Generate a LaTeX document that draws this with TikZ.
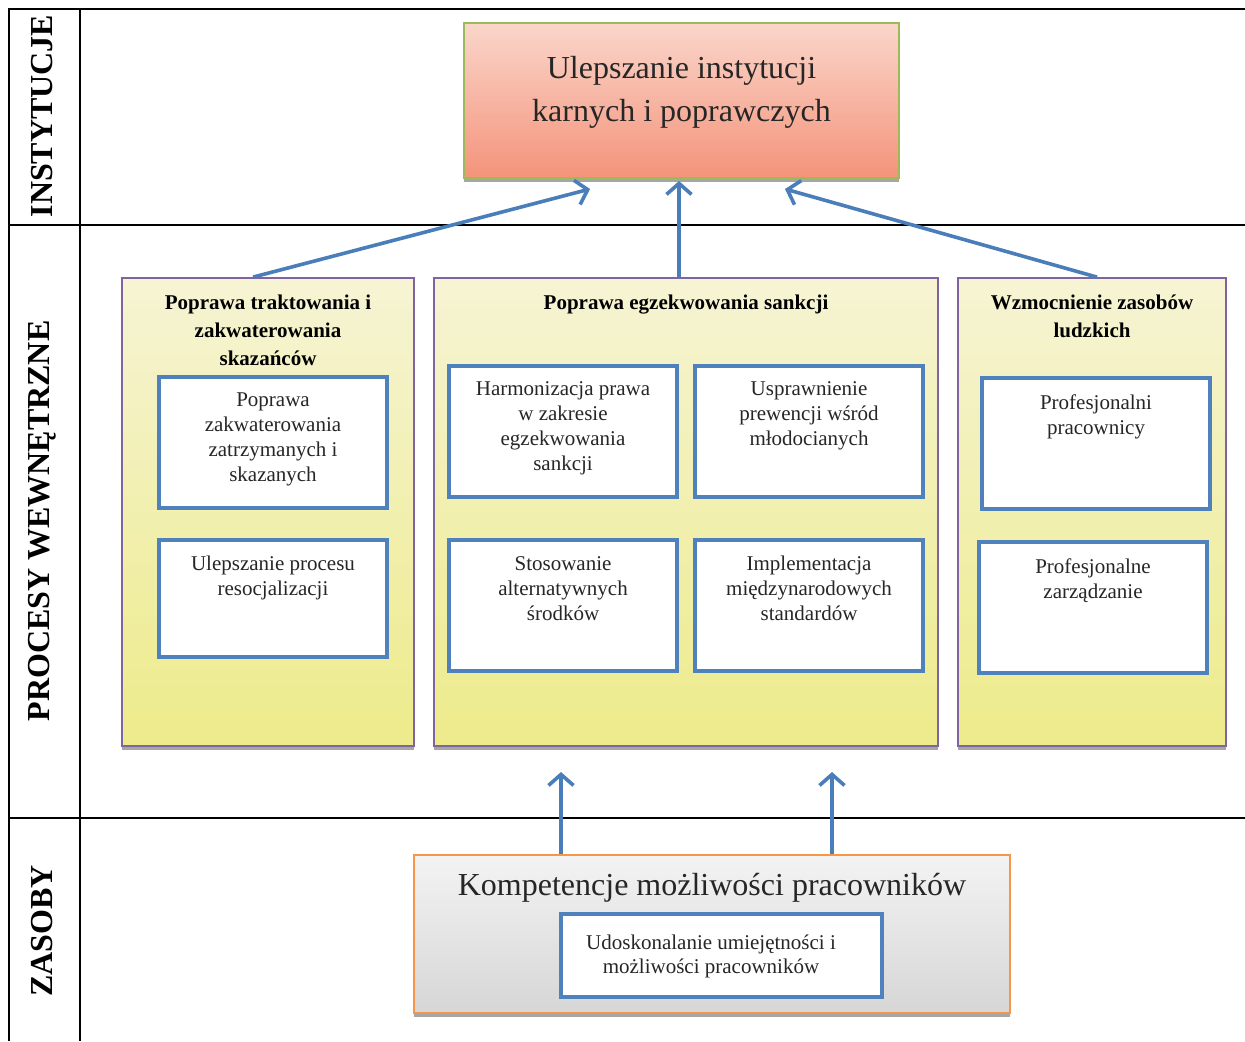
\documentclass[tikz,border=0pt]{standalone}
\usepackage{fontspec}
\setmainfont{Liberation Serif}
\usetikzlibrary{shapes, arrows.meta, positioning, shadows}
\definecolor{niebieski}{HTML}{4F81BD}
\definecolor{strzal}{HTML}{4A7EBB}
\definecolor{fiolet}{HTML}{8064A2}
\definecolor{zielony}{HTML}{9BBB59}
\definecolor{pomarancz}{HTML}{F79646}
\definecolor{lososJ}{HTML}{FAD6CB}
\definecolor{lososC}{HTML}{F4937A}
\definecolor{zoltyJ}{HTML}{F6F4D4}
\definecolor{zoltyC}{HTML}{EDEB8A}
\definecolor{szaryJ}{HTML}{F3F3F3}
\definecolor{szaryC}{HTML}{D6D6D6}
\tikzstyle{linia} = [line width=1.3pt]
\tikzstyle{wiersz} = [font=\fontsize{16}{18}\selectfont\bfseries, rotate=90, inner sep=0pt]
\tikzstyle{cien} = [drop shadow={shadow xshift=0pt, shadow yshift=-2pt, fill=black!35, opacity=1}]
\tikzstyle{cel} = [cien, draw=zielony, line width=1pt, top color=lososJ, bottom color=lososC, minimum width=217.5pt, minimum height=77.5pt]
\tikzstyle{obszar} = [cien, draw=fiolet, line width=0.9pt, top color=zoltyJ, bottom color=zoltyC, minimum height=234pt]
\tikzstyle{zasob} = [cien, draw=pomarancz, line width=1pt, top color=szaryJ, bottom color=szaryC, minimum width=298pt, minimum height=79pt]
\tikzstyle{zadanie} = [draw=niebieski, line width=2pt, fill=white, minimum width=114pt, minimum height=65.5pt]
\tikzstyle{naglowek} = [font=\fontsize{10.5}{14}\selectfont\bfseries, align=center, inner sep=0pt]
\tikzstyle{tekst} = [font=\fontsize{10.5}{12.5}\selectfont, text=black!85, align=center, inner sep=0pt]
\tikzstyle{duzy} = [font=\fontsize{16}{21.5}\selectfont, text=black!85, align=center, inner sep=0pt]
\tikzstyle{strzalka} = [draw=strzal, line width=1.8pt, -{Straight Barb[length=5.5pt, width=12.5pt]}]

\begin{document}
\begin{tikzpicture}[x=0.5pt, y=-0.5pt]
	\useasboundingbox (0,0) rectangle (1245,1041);
	% tabela
	\draw[linia] (1245,9) -- (9,9) -- (9,1041);
	\draw[linia] (80,9) -- (80,1041);
	\draw[linia] (9,225) -- (1245,225);
	\draw[linia] (9,818) -- (1245,818);
	\node[wiersz] (w1) at (42,116) {INSTYTUCJE};
	\node[wiersz] (w2) at (42,521) {PROCESY WEWNĘTRZNE};
	\node[wiersz] (w3) at (42,931) {ZASOBY};

	% instytucje
	\node[cel] (cel) at (681.5,100.5) {};
	\node[duzy, below=17pt of cel.north] (celT) {Ulepszanie instytucji\\karnych i poprawczych};

	% procesy
	\node[obszar, minimum width=146pt] (lbox) at (268,512) {};
	\node[obszar, minimum width=252pt] (mbox) at (686,512) {};
	\node[obszar, minimum width=134pt] (rbox) at (1092,512) {};
	\node[naglowek, below=8.5pt of lbox.north] (nL) {Poprawa traktowania i\\zakwaterowania\\skazańców};
	\node[naglowek, below=8.5pt of mbox.north] (nM) {Poprawa egzekwowania sankcji};
	\node[naglowek, below=8.5pt of rbox.north] (nR) {Wzmocnienie zasobów\\ludzkich};

	\node[zadanie] (z1) at (273,442) {};
	\node[zadanie, minimum height=58.5pt] (z2) at (273,598.5) {};
	\node[zadanie] (z3) at (563,431) {};
	\node[zadanie] (z4) at (809,431) {};
	\node[zadanie] (z5) at (563,605.5) {};
	\node[zadanie] (z6) at (809,605.5) {};
	\node[zadanie] (z7) at (1096,443.5) {};
	\node[zadanie] (z8) at (1093,607.5) {};
	\node[tekst, below=9pt of z1.north] (t1) {Poprawa\\zakwaterowania\\zatrzymanych i\\skazanych};
	\node[tekst, below=9pt of z2.north] (t2) {Ulepszanie procesu\\resocjalizacji};
	\node[tekst, below=9pt of z3.north] (t3) {Harmonizacja prawa\\w zakresie\\egzekwowania\\sankcji};
	\node[tekst, below=9pt of z4.north] (t4) {Usprawnienie\\prewencji wśród\\młodocianych};
	\node[tekst, below=9pt of z5.north] (t5) {Stosowanie\\alternatywnych\\środków};
	\node[tekst, below=9pt of z6.north] (t6) {Implementacja\\międzynarodowych\\standardów};
	\node[tekst, below=9pt of z7.north] (t7) {Profesjonalni\\pracownicy};
	\node[tekst, below=9pt of z8.north] (t8) {Profesjonalne\\zarządzanie};

	% zasoby
	\node[zasob] (kbox) at (712,934) {};
	\node[duzy, below=9.5pt of kbox.north] (kT) {Kompetencje możliwości pracowników};
	\node[zadanie, minimum width=160.5pt, minimum height=41.5pt] (kz) at (721.5,955.5) {};
	\node[tekst, font=\fontsize{10.5}{12}\selectfont] (kzT) at (711,956.5) {Udoskonalanie umiejętności i\\możliwości pracowników};

	% strzalki
	\coordinate (s1) at (561,772);
	\coordinate (s2) at (832,772);
	\draw[strzalka] ([xshift=-7.5pt]lbox.north) -- ([xshift=-45.75pt, yshift=-5pt]cel.south);
	\draw[strzalka] ([xshift=-3.5pt]mbox.north) -- ([xshift=-1.25pt, yshift=-1pt]cel.south);
	\draw[strzalka] ([xshift=2.5pt]rbox.north) -- ([xshift=51.75pt, yshift=-5pt]cel.south);
	\draw[strzalka] ([xshift=-75.5pt]kbox.north) -- (s1);
	\draw[strzalka] ([xshift=60pt]kbox.north) -- (s2);
\end{tikzpicture}
\end{document}
